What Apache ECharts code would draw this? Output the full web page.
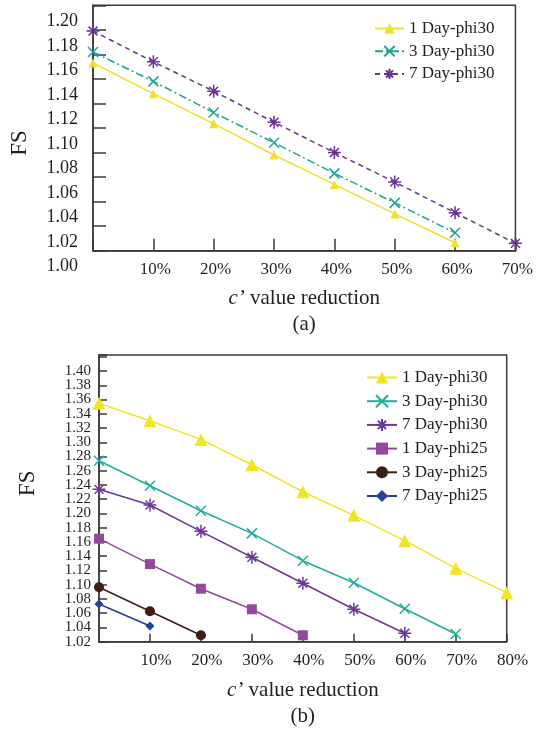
<!DOCTYPE html>
<html><head><meta charset="utf-8">
<script src="https://cdn.jsdelivr.net/npm/echarts@6/dist/echarts.min.js"></script>
<style>html,body{margin:0;padding:0;background:#fff}#c{width:536px;height:733px}</style>
</head><body><div id="c"></div>
<script>
// ---------- panel (a) ----------
const catsA = ['0%','10%','20%','30%','40%','50%','60%','70%'];
const a_1Day_phi30 = [1.153, 1.128, 1.1035, 1.078, 1.054, 1.030, 1.0065];
const a_3Day_phi30 = [1.162, 1.138, 1.1126, 1.088, 1.063, 1.039, 1.0146];
const a_7Day_phi30 = [1.179, 1.154, 1.130, 1.1047, 1.080, 1.056, 1.031, 1.006];
const yTicksA = {min: 1.00, max: 1.20, step: 0.02};
// ---------- panel (b) ----------
const catsB = ['0%','10%','20%','30%','40%','50%','60%','70%','80%'];
const b_1Day_phi30 = [1.3546, 1.3302, 1.304, 1.2684, 1.2305, 1.1974, 1.1618, 1.123, 1.0888];
const b_3Day_phi30 = [1.274, 1.239, 1.2039, 1.1721, 1.1337, 1.1028, 1.0663, 1.0308];
const b_7Day_phi30 = [1.2339, 1.2119, 1.175, 1.1385, 1.102, 1.0655, 1.0318];
const b_1Day_phi25 = [1.1646, 1.129, 1.0944, 1.0655, 1.029];
const b_3Day_phi25 = [1.0964, 1.0627, 1.029];
const b_7Day_phi25 = [1.0729, 1.042];
const yTicksB = {min: 1.02, max: 1.4225, step: 0.02, firstLabel: 1.02, lastLabel: 1.40};

const FONT = '"Liberation Serif","Times New Roman",serif';
const TXT = '#231f20';
const AX = '#3a3a3a';
const X_SYM = 'path://M0,0L10,10M10,0L0,10';
const STAR_SYM = 'path://M5,0L5,10M0,5L10,5M1.6,1.6L8.4,8.4M8.4,1.6L1.6,8.4';

function mk(name, data, color, symbol, size, lineType, gi) {
  return {
    name: name, type: 'line', data: data,
    xAxisIndex: gi, yAxisIndex: gi,
    symbol: symbol, symbolSize: size, symbolKeepAspect: true,
    showSymbol: true, animation: false,
    lineStyle: {color: color, width: 1.5, type: lineType},
    itemStyle: {color: color, borderColor: color, borderWidth: (symbol.indexOf('path://') === 0 ? 1.5 : 0)},
    emphasis: {disabled: true}
  };
}

const xAxisBase = (cats, gi, shift, tickLen) => ({
  type: 'category', data: cats, gridIndex: gi, boundaryGap: false,
  axisLine: {show: true, lineStyle: {color: AX, width: 1.5}},
  axisTick: {show: true, inside: true, length: tickLen, lineStyle: {color: AX, width: 1.5}},
  axisLabel: {
    color: TXT, fontFamily: FONT, fontSize: 17, margin: 10,
    padding: [0, 0, 0, shift], showMinLabel: true, showMaxLabel: true,
    formatter: (v) => (v === '0%' ? '' : v)
  },
  splitLine: {show: false},
  nameLocation: 'middle',
  nameTextStyle: {
    color: TXT, fontFamily: FONT, fontSize: 21, lineHeight: 26,
    rich: {i: {fontStyle: 'italic', fontFamily: FONT, fontSize: 21, color: TXT, lineHeight: 26}}
  }
});

// panel (b) plot box: 355 .. 641.7 px; one label step in px
const B_TOP = 355, B_H = 286.7;
const B_STEP_PX = B_H / ((yTicksB.max - yTicksB.min) / yTicksB.step);

const chart = echarts.init(document.getElementById('c'), null, {renderer: 'canvas'});
chart.setOption({
  backgroundColor: '#fff',
  animation: false,
  grid: [
    {left: 92, top: 5.3, width: 426, height: 245.4, show: true, borderColor: AX, borderWidth: 1.5, backgroundColor: 'transparent'},
    {left: 99, top: B_TOP, width: 407.7, height: B_H, show: true, borderColor: AX, borderWidth: 1.5, backgroundColor: 'transparent'},
    // label-only grid for panel (a): its tick labels sit 16px below the ticks, as in the reference
    {left: 92, top: 21.3, width: 426, height: 245.4, show: false},
    // label-only grid for panel (b): extended one step downward so 1.02 is not the axis minimum
    {left: 99, top: B_TOP, width: 407.7, height: B_H + B_STEP_PX, show: false}
  ],
  xAxis: [
    Object.assign(xAxisBase(catsA, 0, 4, 12), {name: '{i|c\u2019} value reduction\n(a)', nameGap: 35}),
    Object.assign(xAxisBase(catsB, 1, 12, 8), {name: '{i|c\u2019} value reduction\n(b)', nameGap: 36}),
    {type: 'category', data: catsA, gridIndex: 2, show: false},
    {type: 'category', data: catsB, gridIndex: 3, show: false}
  ],
  yAxis: [
    {
      type: 'value', gridIndex: 0, min: yTicksA.min, max: yTicksA.max, interval: yTicksA.step,
      axisLine: {show: true, lineStyle: {color: AX, width: 1.5}},
      axisTick: {show: true, inside: true, length: 13, lineStyle: {color: AX, width: 1.5}},
      axisLabel: {show: false},
      splitLine: {show: false},
      name: 'FS', nameLocation: 'middle', nameGap: 62, nameRotate: 90,
      nameTextStyle: {color: TXT, fontFamily: FONT, fontSize: 23, padding: [0, 30, 0, 0]}
    },
    {
      type: 'value', gridIndex: 1, min: yTicksB.min, max: yTicksB.max, interval: yTicksB.step,
      axisLine: {show: true, lineStyle: {color: AX, width: 1.5}},
      axisTick: {show: true, inside: true, length: 8, lineStyle: {color: AX, width: 1.5}},
      axisLabel: {show: false},
      splitLine: {show: false},
      name: 'FS', nameLocation: 'middle', nameGap: 60, nameRotate: 90,
      nameTextStyle: {color: TXT, fontFamily: FONT, fontSize: 23, padding: [0, 0, 0, 30]}
    },
    {
      type: 'value', gridIndex: 2, min: yTicksA.min, max: yTicksA.max, interval: yTicksA.step,
      axisLine: {show: false}, axisTick: {show: false}, splitLine: {show: false},
      axisLabel: {color: TXT, fontFamily: FONT, fontSize: 18, margin: 14, lineHeight: 18,
        showMinLabel: true, showMaxLabel: true, hideOverlap: false,
        formatter: (v) => v.toFixed(2)}
    },
    {
      type: 'value', gridIndex: 3, min: yTicksB.min - yTicksB.step, max: yTicksB.max, interval: yTicksB.step,
      axisLine: {show: false}, axisTick: {show: false}, splitLine: {show: false},
      axisLabel: {color: TXT, fontFamily: FONT, fontSize: 15, margin: 8, lineHeight: 14,
        showMinLabel: false, showMaxLabel: false, hideOverlap: false,
        formatter: (v) => ((v < yTicksB.firstLabel - 0.005 || v > yTicksB.lastLabel + 0.005) ? '' : v.toFixed(2))}
    }
  ],
  legend: [
    {
      orient: 'vertical', left: 374, top: 20, padding: 0, itemGap: 5.7,
      itemWidth: 29, itemHeight: 13,
      textStyle: {color: TXT, fontFamily: FONT, fontSize: 17, lineHeight: 17},
      data: ['1 Day-phi30', '3 Day-phi30', '7 Day-phi30'],
      selectedMode: false
    },
    {
      orient: 'vertical', left: 366, top: 369, padding: 0, itemGap: 6.7,
      itemWidth: 30, itemHeight: 15,
      textStyle: {color: TXT, fontFamily: FONT, fontSize: 17, lineHeight: 17},
      data: ['b:1 Day-phi30', 'b:3 Day-phi30', 'b:7 Day-phi30', 'b:1 Day-phi25', 'b:3 Day-phi25', 'b:7 Day-phi25'],
      formatter: (n) => n.replace(/^b:/, ''),
      selectedMode: false
    }
  ],
  series: [
    mk('1 Day-phi30', a_1Day_phi30, '#EEE02E', 'triangle', 9, 'solid', 0),
    mk('3 Day-phi30', a_3Day_phi30, '#1FA595', X_SYM, 10, [8, 3, 2, 3], 0),
    mk('7 Day-phi30', a_7Day_phi30, '#6A3393', STAR_SYM, 13, [5, 4], 0),
    mk('b:1 Day-phi30', b_1Day_phi30, '#F2E424', 'triangle', 13, 'solid', 1),
    mk('b:3 Day-phi30', b_3Day_phi30, '#20AD9E', X_SYM, 10, 'solid', 1),
    mk('b:7 Day-phi30', b_7Day_phi30, '#6B3A98', STAR_SYM, 13, 'solid', 1),
    mk('b:1 Day-phi25', b_1Day_phi25, '#934A9D', 'rect', 10, 'solid', 1),
    mk('b:3 Day-phi25', b_3Day_phi25, '#3C1E14', 'circle', 10, 'solid', 1),
    mk('b:7 Day-phi25', b_7Day_phi25, '#263F96', 'diamond', 9, 'solid', 1)
  ]
});
</script></body></html>
